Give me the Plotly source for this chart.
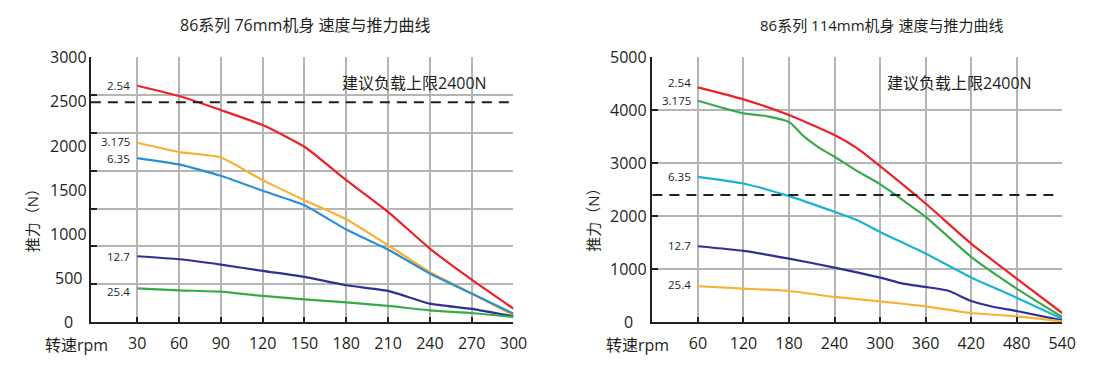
import plotly.graph_objects as go

# ---------------- data ----------------
left_title = "86系列 76mm机身 速度与推力曲线"
right_title = "86系列 114mm机身 速度与推力曲线"
limit_text = "建议负载上限2400N"
x_title = "转速rpm"
y_title = "推力（N）"

left_xticks = [30, 60, 90, 120, 150, 180, 210, 240, 270, 300]
left_ylabels = [0, 500, 1000, 1500, 2000, 2500, 3000]
left_limit = 2490

left_names = ["2.54", "3.175", "6.35", "12.7", "25.4"]
left_x = [30, 60, 90, 120, 150, 180, 210, 240, 270, 300]
left_254 = [2678, 2561, 2402, 2232, 1986, 1608, 1248, 832, 480, 151]
left_3175 = [2031, 1926, 1865, 1608, 1381, 1165, 870, 567, 322, 76]
left_635 = [1858, 1786, 1657, 1487, 1324, 1048, 821, 549, 322, 95]
left_127 = [745, 711, 651, 579, 511, 416, 352, 208, 148, 64]
left_254b = [382, 359, 344, 295, 257, 223, 182, 132, 102, 57]

right_xticks = [60, 120, 180, 240, 300, 360, 420, 480, 540]
right_ylabels = [0, 1000, 2000, 3000, 4000, 5000]
right_limit = 2400

right_names = ["2.54", "3.175", "6.35", "12.7", "25.4"]
right_x_254 = [60, 120, 180, 240, 270, 300, 360, 420, 480, 540]
right_254 = [4433, 4206, 3909, 3531, 3279, 2945, 2238, 1482, 820, 170]
right_x_3175 = [60, 120, 150, 180, 200, 220, 240, 270, 300, 360, 420, 480, 540]
right_3175 = [4180, 3941, 3890, 3780, 3500, 3290, 3121, 2850, 2604, 1986, 1230, 631, 95]
right_x_635 = [60, 120, 180, 240, 270, 300, 360, 420, 480, 540]
right_635 = [2743, 2617, 2377, 2081, 1923, 1702, 1293, 839, 460, 63]
right_x_127 = [60, 120, 180, 240, 300, 330, 360, 390, 420, 450, 480, 540]
right_127 = [1431, 1343, 1198, 1028, 839, 725, 662, 590, 397, 284, 208, 32]
right_x_254b = [60, 120, 180, 240, 300, 360, 420, 480, 540]
right_254b = [675, 631, 586, 473, 391, 296, 170, 107, 13]

# ---------------- geometry helpers ----------------
W, H = 1113, 379


def px(x):
    return x / W


def py(y):
    return 1 - y / H


# ---------------- styles ----------------
FONT = "Open Sans, Noto Sans CJK SC, sans-serif"
TXT = "#231f20"
GRID = "#b5b5b5"
AX = "#231f20"
RED = "#ec2227"
ORANGE = "#f8b133"
BLUE = "#2b8fd2"
NAVY = "#2e3192"
GREEN = "#39aa4b"
CYAN = "#1cb3d3"

left_colors = [RED, ORANGE, BLUE, NAVY, GREEN]
right_colors = [RED, GREEN, CYAN, NAVY, ORANGE]

fig = go.Figure()

left_series = [(left_x, left_254), (left_x, left_3175), (left_x, left_635),
               (left_x, left_127), (left_x, left_254b)]
right_series = [(right_x_254, right_254), (right_x_3175, right_3175),
                (right_x_635, right_635), (right_x_127, right_127),
                (right_x_254b, right_254b)]

annotations = []
left_label_yshift = [0, 1, 0, 0, -3]
right_label_yshift = [5, 0, 0, 1, 2]

for (xs, ys), name, col, ysh in zip(left_series, left_names, left_colors, left_label_yshift):
    fig.add_trace(go.Scatter(x=xs, y=ys, mode="lines", name=name,
                             line=dict(color=col, width=2.2, shape="spline", smoothing=0.5),
                             xaxis="x", yaxis="y", showlegend=False, hoverinfo="skip"))
    annotations.append(dict(x=xs[0], y=ys[0], xref="x", yref="y", text=name,
                            showarrow=False, xanchor="right", yanchor="middle",
                            xshift=-5, yshift=ysh,
                            font=dict(family=FONT, size=11.5, color=TXT)))

for (xs, ys), name, col, ysh in zip(right_series, right_names, right_colors, right_label_yshift):
    fig.add_trace(go.Scatter(x=xs, y=ys, mode="lines", name=name,
                             line=dict(color=col, width=2.2, shape="spline", smoothing=0.5),
                             xaxis="x2", yaxis="y2", showlegend=False, hoverinfo="skip"))
    annotations.append(dict(x=xs[0], y=ys[0], xref="x2", yref="y2", text=name,
                            showarrow=False, xanchor="right", yanchor="middle",
                            xshift=-5, yshift=ysh,
                            font=dict(family=FONT, size=11.5, color=TXT)))

# y tick labels (centered, as in the reference)
for v in left_ylabels:
    annotations.append(dict(x=px(69.5), y=v, xref="paper", yref="y", text=str(v),
                            showarrow=False, xanchor="center", yanchor="middle",
                            font=dict(family=FONT, size=16, color=TXT)))
for v in right_ylabels:
    annotations.append(dict(x=px(636), y=v, xref="paper", yref="y2", text=str(v),
                            showarrow=False, xanchor="center", yanchor="middle",
                            font=dict(family=FONT, size=16, color=TXT)))

# titles & texts
annotations += [
    dict(x=px(309.5), y=py(25), xref="paper", yref="paper", text=left_title, showarrow=False,
         xanchor="center", yanchor="middle", font=dict(family=FONT, size=16, color=TXT)),
    dict(x=px(893), y=py(25), xref="paper", yref="paper", text=right_title, showarrow=False,
         xanchor="center", yanchor="middle", font=dict(family=FONT, size=15, color=TXT)),
    dict(x=px(420), y=py(83), xref="paper", yref="paper", text=limit_text, showarrow=False,
         xanchor="center", yanchor="middle", font=dict(family=FONT, size=16, color=TXT)),
    dict(x=px(972), y=py(83), xref="paper", yref="paper", text=limit_text, showarrow=False,
         xanchor="center", yanchor="middle", font=dict(family=FONT, size=16, color=TXT)),
    dict(x=px(77), y=py(345), xref="paper", yref="paper", text=x_title, showarrow=False,
         xanchor="center", yanchor="middle", font=dict(family=FONT, size=16, color=TXT)),
    dict(x=px(645.5), y=py(345), xref="paper", yref="paper", text=x_title, showarrow=False,
         xanchor="center", yanchor="middle", font=dict(family=FONT, size=16, color=TXT)),
    dict(x=px(32), y=py(216.7), xref="paper", yref="paper", text=y_title, showarrow=False,
         textangle=-90, xanchor="center", yanchor="middle",
         font=dict(family=FONT, size=15, color=TXT)),
    dict(x=px(600.6), y=py(216.7), xref="paper", yref="paper", text=y_title, showarrow=False,
         textangle=-90, xanchor="center", yanchor="middle",
         font=dict(family=FONT, size=15, color=TXT)),
]

shapes = [
    dict(type="line", xref="x domain", yref="y", x0=0, x1=1, y0=left_limit, y1=left_limit,
         line=dict(color=AX, width=2, dash="10px,7px"), layer="above"),
    dict(type="line", xref="x2 domain", yref="y2", x0=0, x1=0.985, y0=right_limit, y1=right_limit,
         line=dict(color=AX, width=2, dash="10px,7px"), layer="above"),
]

left_grid = [i * 3000 / 7 for i in range(8)]
right_grid = [0, 1000, 2000, 3000, 4000, 5000]

xcommon = dict(showgrid=True, gridcolor=GRID, gridwidth=1.5, zeroline=False,
               showline=True, linecolor=AX, linewidth=2,
               ticks="inside", ticklen=5, tickwidth=1.5, tickcolor=AX,
               tickfont=dict(family=FONT, size=16, color=TXT), ticklabelstandoff=6)
ycommon = dict(showgrid=True, gridcolor=GRID, gridwidth=1.5, zeroline=False,
               showline=True, linecolor=AX, linewidth=2,
               ticks="inside", ticklen=6, tickwidth=1.5, tickcolor=AX,
               showticklabels=False)

fig.update_layout(
    width=W, height=H,
    margin=dict(l=0, r=0, t=0, b=0),
    paper_bgcolor="white", plot_bgcolor="white",
    showlegend=False,
    xaxis=dict(domain=[px(92), px(520)], range=[-3.3, 300], tickvals=left_xticks,
               anchor="y", **xcommon),
    yaxis=dict(domain=[py(322), py(57.3)], range=[0, 3000], tickvals=left_grid,
               anchor="x", **ycommon),
    xaxis2=dict(domain=[px(660.7), px(1075.7)], range=[0, 540], tickvals=right_xticks,
                anchor="y2", **xcommon),
    yaxis2=dict(domain=[py(322), py(57.3)], range=[0, 5000], tickvals=right_grid,
                anchor="x2", **ycommon),
    annotations=annotations,
    shapes=shapes,
)

fig.write_html(
    "out.html",
    config={"displayModeBar": False},
    post_script="document.body.style.margin='0';document.body.style.overflow='hidden';",
)
